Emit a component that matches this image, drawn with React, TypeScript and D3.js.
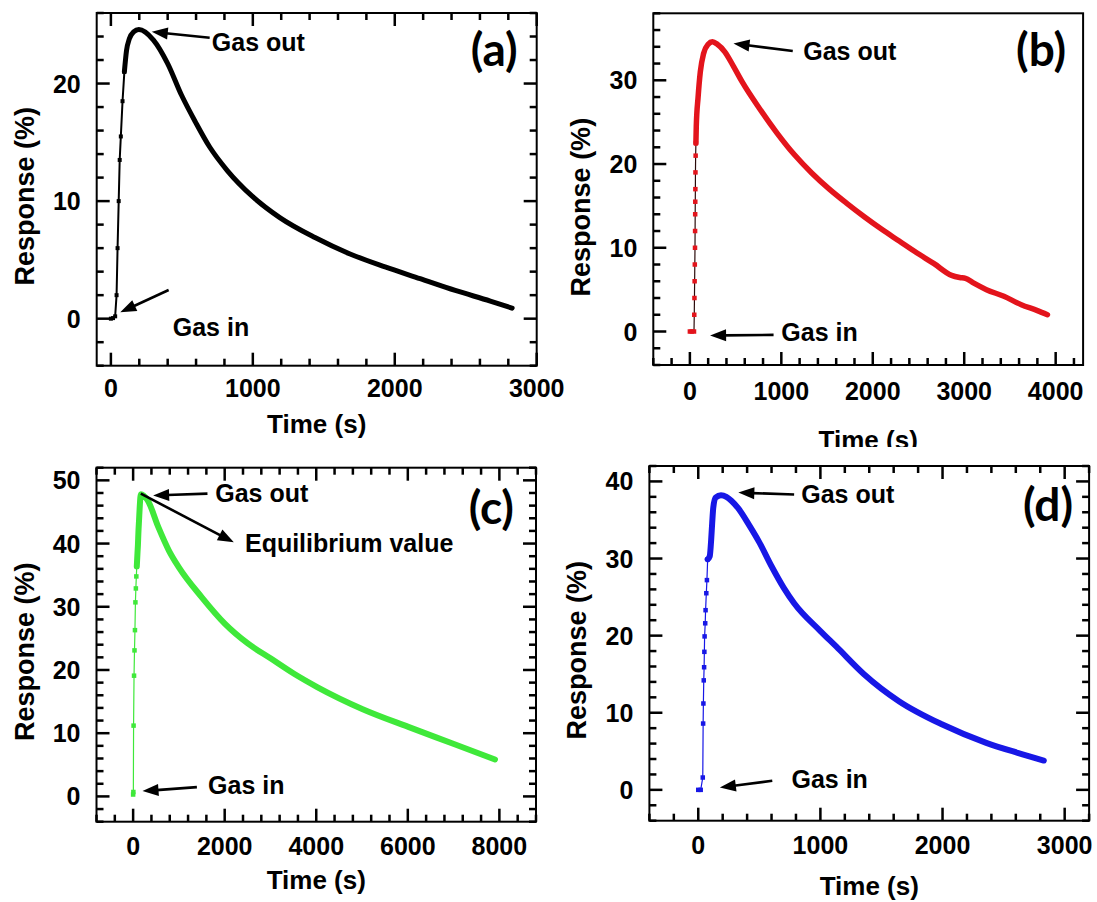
import React, { useEffect, useRef } from "react";
import * as d3 from "d3";

// ---- Panel (a): black trace ----
const aRiseTime = [0, 15, 30, 40, 47, 55, 62, 70, 82, 95];
const aRiseResp = [0, 0.05, 0.2, 2, 6, 10, 13.5, 15.5, 18.5, 21];
const aDecayTime = [95, 110, 130, 160, 197, 300, 400, 498, 597, 696, 820, 997, 1190, 1438, 1685, 1932, 2179, 2426, 2673, 2827];
const aDecayResp = [21, 22.8, 23.8, 24.4, 24.6, 23.7, 21.7, 19.0, 16.7, 14.6, 12.6, 10.4, 8.6, 6.9, 5.5, 4.4, 3.4, 2.4, 1.5, 0.9];

// ---- Panel (b): red trace ----
const bRiseTime = [0, 20, 45, 48, 50, 52, 54, 56, 57, 58, 59, 60, 61, 63, 66];
const bRiseResp = [0, 0, 0, 2, 4, 6, 8, 10, 12, 14, 15.5, 17, 19, 21, 22.5];
const bDecayTime = [66, 70, 90, 114, 150, 200, 247, 300, 382, 480, 572, 763, 953, 1144, 1335, 1525, 1716, 1907, 2098, 2289, 2480, 2670, 2862, 2950, 3014, 3100, 3243, 3434, 3624, 3800, 3910];
const bDecayResp = [22.5, 24.5, 28, 31, 33.2, 34.3, 34.6, 34.3, 33.4, 31.6, 29.8, 26.6, 23.7, 21.1, 18.9, 17.0, 15.3, 13.7, 12.2, 10.8, 9.4, 8.1, 6.7, 6.45, 6.35, 5.8, 5.0, 4.2, 3.2, 2.5, 2.0];

// ---- Panel (c): green trace ----
const cRiseTime = [0, 5, 10, 20, 30, 40, 50, 60, 70, 80];
const cRiseResp = [0.3, 0.7, 11.2, 19.1, 23.1, 26.3, 30.7, 32.9, 34.8, 36.4];
const cDecayTime = [80, 95, 105, 115, 130, 145, 168, 321, 551, 781, 1003, 1500, 2007, 2505, 3009, 3515, 4020, 5015, 6011, 7007, 7904];
const cDecayResp = [36.4, 38.5, 39.8, 41.7, 43.8, 45.9, 47.8, 46.8, 42.6, 38.9, 36.2, 31.5, 27.3, 24.2, 21.8, 19.4, 17.3, 13.8, 11.0, 8.3, 5.85];

// ---- Panel (d): blue trace ----
const dRiseTime = [0, 20, 37, 40, 42, 45, 48, 50, 52, 57, 60, 66, 71, 77];
const dRiseResp = [0, 0, 1.6, 8.6, 11.2, 14.2, 15.9, 17.9, 19.9, 21.6, 23.3, 25.5, 27.2, 29.9];
const dDecayTime = [77, 94, 106, 114, 123, 143, 186, 230, 271, 328, 414, 500, 600, 700, 785, 1000, 1129, 1357, 1643, 1994, 2358, 2615, 2829];
const dDecayResp = [29.9, 30.3, 32.5, 34.6, 36.6, 37.9, 38.2, 38.0, 37.5, 36.5, 34.4, 32.1, 29.0, 26.2, 24.2, 20.6, 18.6, 15.0, 11.5, 8.5, 6.1, 4.8, 3.8];

// Axis text
const xTitle = "Time (s)";
const yTitle = "Response (%)";

type Note = { label: string; at: [number, number]; tail: [number, number]; tip: [number, number] };
type Panel = {
  tag: string;
  riseT: number[]; riseR: number[]; decayT: number[]; decayR: number[];
  color: string; stemColor: string; stemWidth: number; markerSize: number; thick: number;
  frame: { left: number; right: number; top: number; bottom: number };
  xDomain: [number, number]; yDomain: [number, number];
  xMajor: number; xMinor: number; yMajor: number; yMinor: number;
  allSides: boolean;
  tickLabelBase: number; xTitleBase: number; yTitleShift: number;
  tagInset: number; tagBase: number;
  clipBottom?: number;
  notes: Note[];
};

const panels: Panel[] = [
  {
    tag: "(a)", riseT: aRiseTime, riseR: aRiseResp, decayT: aDecayTime, decayR: aDecayResp,
    color: "#000000", stemColor: "#000000", stemWidth: 2, markerSize: 4, thick: 5,
    frame: { left: 96.7, right: 536.7, top: 13, bottom: 365.7 },
    xDomain: [-100, 3000], yDomain: [-4, 26], xMajor: 1000, xMinor: 200, yMajor: 10, yMinor: 2,
    allSides: true, tickLabelBase: 31, xTitleBase: 67, yTitleShift: 7, tagInset: 19, tagBase: 53,
    notes: [
      { label: "Gas out", at: [711, 22.8], tail: [696, 23.9], tip: [288, 24.4] },
      { label: "Gas in", at: [436, -1.45], tail: [407, 2.44], tip: [66, 0.54] },
    ],
  },
  {
    tag: "(b)", riseT: bRiseTime, riseR: bRiseResp, decayT: bDecayTime, decayR: bDecayResp,
    color: "#e3141c", stemColor: "#2a0a0a", stemWidth: 1.2, markerSize: 4.5, thick: 5.5,
    frame: { left: 653.3, right: 1083.1, top: 13.3, bottom: 365 },
    xDomain: [-400, 4300], yDomain: [-4, 38], xMajor: 1000, xMinor: 200, yMajor: 10, yMinor: 2,
    allSides: false, tickLabelBase: 35, xTitleBase: 84, yTitleShift: 18, tagInset: 17, tagBase: 53,
    clipBottom: 447,
    notes: [
      { label: "Gas out", at: [1240, 32.4], tail: [1125, 33.5], tip: [477, 34.4] },
      { label: "Gas in", at: [1000, -1.1], tail: [915, -0.4], tip: [221, -0.48] },
    ],
  },
  {
    tag: "(c)", riseT: cRiseTime, riseR: cRiseResp, decayT: cDecayTime, decayR: cDecayResp,
    color: "#3fe83a", stemColor: "#3fe83a", stemWidth: 1.2, markerSize: 4.5, thick: 6,
    frame: { left: 96.5, right: 536, top: 467.7, bottom: 821.7 },
    xDomain: [-800, 8800], yDomain: [-4, 52], xMajor: 2000, xMinor: 400, yMajor: 10, yMinor: 2,
    allSides: true, tickLabelBase: 33, xTitleBase: 67, yTitleShift: 7, tagInset: 22, tagBase: 56,
    notes: [
      { label: "Gas out", at: [1793, 46.6], tail: [1624, 47.9], tip: [437, 47.6] },
      { label: "Equilibrium value", at: [2443, 38.7], tail: [168, 47.9], tip: [2199, 40.2] },
      { label: "Gas in", at: [1638, 0.43], tail: [1393, 1.47], tip: [205, 0.84] },
    ],
  },
  {
    tag: "(d)", riseT: dRiseTime, riseR: dRiseResp, decayT: dDecayTime, decayR: dDecayResp,
    color: "#1717e6", stemColor: "#1717e6", stemWidth: 1.2, markerSize: 4.5, thick: 6,
    frame: { left: 649.4, right: 1089.1, top: 466, bottom: 820.7 },
    xDomain: [-400, 3200], yDomain: [-4, 42], xMajor: 1000, xMinor: 200, yMajor: 10, yMinor: 2,
    allSides: true, tickLabelBase: 33, xTitleBase: 74, yTitleShift: 7, tagInset: 16, tagBase: 55,
    notes: [
      { label: "Gas out", at: [843, 37.2], tail: [785, 38.3], tip: [328, 38.55] },
      { label: "Gas in", at: [763, 0.22], tail: [606, 1.17], tip: [177, 0.3] },
    ],
  },
];

const FONT = "'Liberation Sans', Arial, Helvetica, sans-serif";
const TAG_FONT = "Lato, 'Open Sans', sans-serif";
const MAJOR = 13;
const MINOR = 7;
const TICK_W = 2.5;

type G = d3.Selection<SVGGElement, unknown, null, undefined>;

function stepValues(domain: [number, number], step: number): number[] {
  const start = Math.ceil(domain[0] / step) * step;
  return d3.range(start, domain[1] + step * 0.001, step);
}

type TickMark = { x: number; y: number; w: number; h: number };

function drawPanel(root: G, p: Panel, idx: number) {
  const { left, right, top, bottom } = p.frame;
  const x = d3.scaleLinear().domain(p.xDomain).range([left, right]);
  const y = d3.scaleLinear().domain(p.yDomain).range([bottom, top]);

  const g = root.append("g");
  if (p.clipBottom !== undefined) {
    const id = `clip-${idx}`;
    root.append("clipPath").attr("id", id).append("rect")
      .attr("x", left - 120).attr("y", 0).attr("width", right - left + 140).attr("height", p.clipBottom);
    g.attr("clip-path", `url(#${id})`);
  }

  const xMaj = stepValues(p.xDomain, p.xMajor);
  const xAll = stepValues(p.xDomain, p.xMinor);
  const yMaj = stepValues(p.yDomain, p.yMajor);
  const yAll = stepValues(p.yDomain, p.yMinor);
  const near = (list: number[], v: number) => list.some((m) => Math.abs(m - v) < 1e-6);

  // inward tick marks on the frame, positioned from the scales
  const marks: TickMark[] = [];
  const hSides = p.allSides ? ["bottom", "top"] : ["bottom"];
  const vSides = p.allSides ? ["left", "right"] : ["left"];
  hSides.forEach((side) => {
    xAll.forEach((v) => {
      const len = near(xMaj, v) ? MAJOR : MINOR;
      const px = x(v);
      marks.push({ x: px - TICK_W / 2, y: side === "bottom" ? bottom - len : top, w: TICK_W, h: len });
    });
  });
  vSides.forEach((side) => {
    yAll.forEach((v) => {
      const len = near(yMaj, v) ? MAJOR : MINOR;
      const py = y(v);
      marks.push({ x: side === "left" ? left : right - len, y: py - TICK_W / 2, w: len, h: TICK_W });
    });
  });
  g.append("g").selectAll("rect").data(marks).join("rect")
    .attr("x", (d) => d.x).attr("y", (d) => d.y).attr("width", (d) => d.w).attr("height", (d) => d.h)
    .attr("fill", "#000000");

  // tick labels
  const fmt = d3.format("d");
  g.append("g").selectAll("text").data(xMaj).join("text")
    .attr("x", (d) => x(d)).attr("y", bottom + p.tickLabelBase)
    .attr("text-anchor", "middle").attr("font-family", FONT).attr("font-weight", "bold")
    .attr("font-size", 25).attr("fill", "#000").text((d) => fmt(d));
  g.append("g").selectAll("text").data(yMaj).join("text")
    .attr("x", left - 16).attr("y", (d) => y(d)).attr("dy", "0.36em")
    .attr("text-anchor", "end").attr("font-family", FONT).attr("font-weight", "bold")
    .attr("font-size", 25).attr("fill", "#000").text((d) => fmt(d));

  // frame
  g.append("rect").attr("x", left).attr("y", top).attr("width", right - left).attr("height", bottom - top)
    .attr("fill", "none").attr("stroke", "#000").attr("stroke-width", 2);

  // axis titles
  g.append("text").attr("x", (left + right) / 2).attr("y", bottom + p.xTitleBase)
    .attr("text-anchor", "middle").attr("font-family", FONT).attr("font-weight", "bold")
    .attr("font-size", 26).attr("fill", "#000").text(xTitle);
  const cy = (top + bottom) / 2 + p.yTitleShift;
  g.append("text").attr("transform", `translate(${left - 63},${cy}) rotate(-90)`)
    .attr("text-anchor", "middle").attr("font-family", FONT).attr("font-weight", "bold")
    .attr("font-size", 27).attr("fill", "#000").text(yTitle);

  // data: sparse rising stem with square symbols, dense decay as a thick trace
  const rise = p.riseT.map((t, i) => [t, p.riseR[i]] as [number, number]);
  const decay = p.decayT.map((t, i) => [t, p.decayR[i]] as [number, number]);
  const lin = d3.line<[number, number]>().x((d) => x(d[0])).y((d) => y(d[1]));
  const smooth = d3.line<[number, number]>().x((d) => x(d[0])).y((d) => y(d[1])).curve(d3.curveMonotoneX);

  g.append("path").attr("d", lin(rise.concat([decay[0]]))!).attr("fill", "none")
    .attr("stroke", p.stemColor).attr("stroke-width", p.stemWidth);
  g.append("g").selectAll("rect").data(rise).join("rect")
    .attr("x", (d) => x(d[0]) - p.markerSize / 2).attr("y", (d) => y(d[1]) - p.markerSize / 2)
    .attr("width", p.markerSize).attr("height", p.markerSize).attr("fill", p.color);
  g.append("path").attr("d", smooth(decay)!).attr("fill", "none")
    .attr("stroke", p.color).attr("stroke-width", p.thick)
    .attr("stroke-linejoin", "round").attr("stroke-linecap", "round");

  // annotations
  p.notes.forEach((n) => {
    const tx = x(n.tail[0]), ty = y(n.tail[1]);
    const hx = x(n.tip[0]), hy = y(n.tip[1]);
    const ang = Math.atan2(hy - ty, hx - tx);
    const L = 16, Wd = 6;
    const bx = hx - L * Math.cos(ang), by = hy - L * Math.sin(ang);
    g.append("line").attr("x1", tx).attr("y1", ty).attr("x2", bx + 2 * Math.cos(ang)).attr("y2", by + 2 * Math.sin(ang))
      .attr("stroke", "#000").attr("stroke-width", 2.6);
    const pts = [
      [hx, hy],
      [bx + Wd * Math.sin(ang), by - Wd * Math.cos(ang)],
      [bx - Wd * Math.sin(ang), by + Wd * Math.cos(ang)],
    ];
    g.append("polygon").attr("points", pts.map((q) => q.join(",")).join(" ")).attr("fill", "#000");
    g.append("text").attr("x", x(n.at[0])).attr("y", y(n.at[1]))
      .attr("font-family", FONT).attr("font-weight", "bold").attr("font-size", 25).attr("fill", "#000")
      .text(n.label);
  });

  // panel tag
  g.append("text").attr("x", right - p.tagInset).attr("y", top + p.tagBase)
    .attr("text-anchor", "end").attr("font-family", TAG_FONT).attr("font-weight", 700)
    .attr("font-size", 46).attr("fill", "#000").text(p.tag);
}

export default function App() {
  const ref = useRef<SVGSVGElement | null>(null);
  useEffect(() => {
    if (!ref.current) return;
    const svg = d3.select(ref.current);
    svg.selectAll("*").remove();
    const root = svg.append("g") as unknown as G;
    panels.forEach((p, i) => drawPanel(root, p, i));
  }, []);
  return (
    <svg
      ref={ref}
      width={1097}
      height={902}
      style={{ position: "absolute", left: 0, top: 0, background: "#ffffff" }}
    />
  );
}
